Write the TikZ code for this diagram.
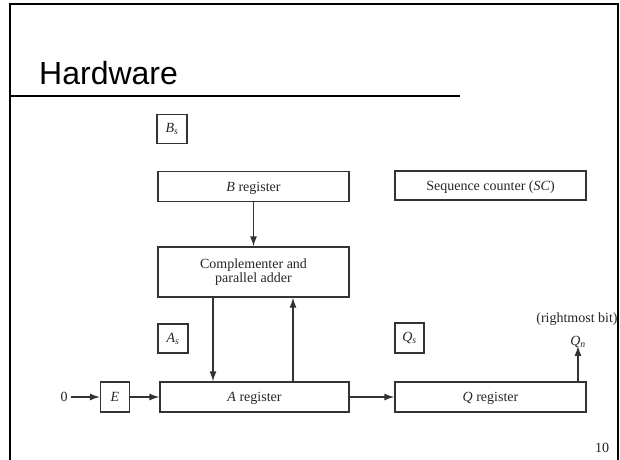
\documentclass[tikz,border=0pt]{standalone}
\usepackage{fontspec}
\setmainfont{Liberation Serif}
\newfontfamily\titlefont{Liberation Sans}
\usetikzlibrary{arrows.meta}
\begin{document}
\begin{tikzpicture}[x=1pt,y=-1pt,
  box/.style={draw=black!80,line width=1.3pt,inner sep=0pt,font=\fontsize{14}{15}\selectfont,align=center,text=black!85},
  onebox/.style={box,text depth=0pt},
  arr/.style={draw=black!80,line width=1.3pt,-{Latex[length=10pt,width=7pt]}},
  lbl/.style={inner sep=0pt,font=\fontsize{14}{15}\selectfont,text=black!85}]
\useasboundingbox (0,0) rectangle (620,459);
\fill[white] (0,0) rectangle (620,459);
% frame
\draw[line width=2pt] (10,470) -- (10,4) -- (618,4) -- (618,470);
\draw[line width=2pt] (10,96) -- (460,96);
\node[anchor=base west,inner sep=0pt,font=\titlefont\fontsize{32}{36}\selectfont] (title) at (39,84) {Hardware};
% boxes
\node[box,minimum width=30pt,minimum height=29pt] (Bs) at (172,129) {\textit{B}\textsubscript{\textit{s}}};
\node[onebox,minimum width=191pt,minimum height=30pt] (Breg) at (253.5,186.5) {\textit{B} register};
\node[onebox,minimum width=191pt,minimum height=29pt] (SC) at (490.5,185.5) {Sequence counter (\textit{SC})};
\node[box,minimum width=191pt,minimum height=50pt] (comp) at (253.5,272) {Complementer and\\[-1pt]parallel adder};
\node[box,minimum width=30pt,minimum height=29pt] (As) at (173,338.5) {\textit{A}\textsubscript{\textit{s}}};
\node[box,minimum width=29pt,minimum height=30pt] (Qs) at (409.5,338) {\textit{Q}\textsubscript{\textit{s}}};
\node[onebox,minimum width=29pt,minimum height=30pt] (E) at (115,397) {\textit{E}};
\node[onebox,minimum width=189pt,minimum height=30pt] (Areg) at (254.5,397) {\textit{A} register};
\node[onebox,minimum width=191pt,minimum height=30pt] (Qreg) at (490.5,397) {\textit{Q} register};
\node[lbl] (zero) at (64,397) {0};
\node[lbl] (Qn) at (578,342) {\textit{Q}\textsubscript{\textit{n}}};
\node[lbl] (rb) at (577,319) {(rightmost bit)};
\node[lbl] (pg) at (602,448) {10};
\coordinate (dn) at (213,0);
\coordinate (up) at (293,0);
\coordinate (qn) at (578,0);
% connectors
\draw[arr] (zero.east) ++(3pt,0) -- (E.west);
\draw[arr] (E.east) -- (Areg.west);
\draw[arr] (Areg.east) -- (Qreg.west);
\draw[arr] (Breg.south) -- (comp.north);
\draw[arr] (comp.south -| dn) -- (Areg.north -| dn);
\draw[arr] (Areg.north -| up) -- (comp.south -| up);
\draw[arr] (Qreg.north -| qn) -- ([yshift=2pt]Qn.south);
\end{tikzpicture}
\end{document}
